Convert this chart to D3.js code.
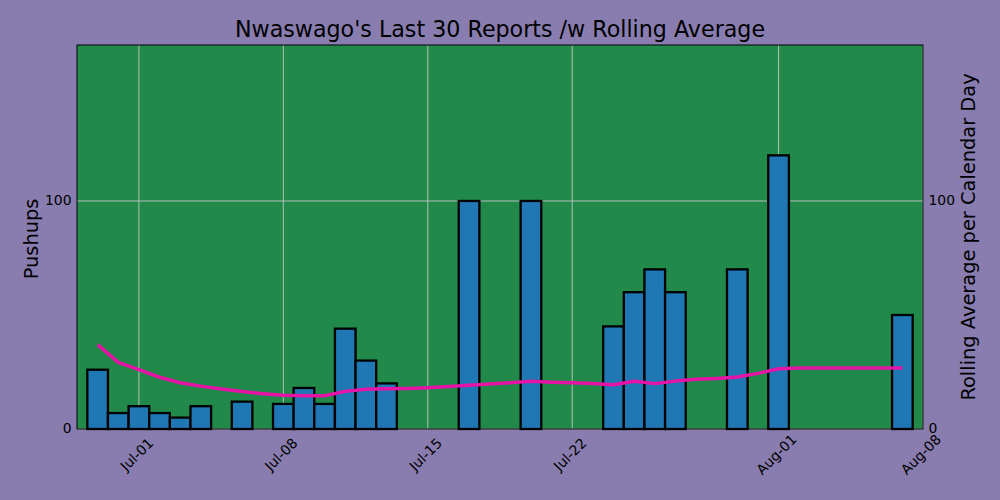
<!DOCTYPE html>
<html>
<head>
<meta charset="utf-8">
<script src="https://cdn.jsdelivr.net/npm/d3@7"></script>
<style>
  body { margin: 0; background: #897daf; }
  text { font-family: "DejaVu Sans", sans-serif; fill: #000; }
</style>
</head>
<body>
<div id="chart"></div>
<script>

// Reports (date, pushups)
const reportDates = ["2023-06-29", "2023-06-30", "2023-07-01", "2023-07-02", "2023-07-03", "2023-07-04",
    "2023-07-06", "2023-07-08", "2023-07-09", "2023-07-10", "2023-07-11", "2023-07-12", "2023-07-13",
    "2023-07-17", "2023-07-20", "2023-07-24", "2023-07-25", "2023-07-26", "2023-07-27",
    "2023-07-30", "2023-08-01", "2023-08-07"];
const pushups = [26, 7, 10, 7, 5, 10, 12, 11, 18, 11, 44, 30, 20, 100, 100, 45, 60, 70, 60, 70, 120, 50];

// Rolling average per calendar day
const avgDates = ["2023-06-29", "2023-06-30",
    "2023-07-01", "2023-07-02", "2023-07-03", "2023-07-04", "2023-07-05", "2023-07-06", "2023-07-07",
    "2023-07-08", "2023-07-09", "2023-07-10", "2023-07-11", "2023-07-12", "2023-07-13", "2023-07-14",
    "2023-07-15", "2023-07-16", "2023-07-17", "2023-07-18", "2023-07-19", "2023-07-20", "2023-07-21",
    "2023-07-22", "2023-07-23", "2023-07-24", "2023-07-25", "2023-07-26", "2023-07-27", "2023-07-28",
    "2023-07-29", "2023-07-30", "2023-07-31",
    "2023-08-01", "2023-08-02", "2023-08-03", "2023-08-04", "2023-08-05", "2023-08-06", "2023-08-07"];
const avgValues = [37, 29.2,
    26, 22.7, 20.3, 18.8, 17.5, 16.4, 15.5,
    14.8, 14.6, 14.6, 16.5, 17.4, 17.7, 17.8,
    18.1, 18.6, 19.2, 19.7, 20.3, 20.9, 20.5,
    20.3, 20.0, 19.4, 20.9, 19.9, 21.0, 21.8,
    22.2, 22.8, 24.4,
    26.4, 26.8, 26.8, 26.8, 26.8, 26.8, 26.8];

const xTicks = ["2023-07-01", "2023-07-08", "2023-07-15", "2023-07-22", "2023-08-01", "2023-08-08"];
const yTicks = [0, 100];

const parse = d3.timeParse("%Y-%m-%d");

let margin = { top: 45, left: 77, right: 77, bottom: 71 },
    width = 1000 - margin.left - margin.right,
    height = 500 - margin.top - margin.bottom;

let svg = d3.select("#chart")
    .append("svg")
    .attr("width", 1000)
    .attr("height", 500);

svg.append("rect")
    .attr("width", 1000)
    .attr("height", 500)
    .attr("fill", "#897daf");

let g = svg.append("g")
    .attr("transform", "translate(" + margin.left + "," + margin.top + ")");

let x = d3.scaleTime()
    .domain([parse("2023-06-28"), parse("2023-08-08")])
    .range([0, width]);

let y = d3.scaleLinear()
    .domain([0, 168.4])
    .range([height, 0]);

// same scale on the right
let y2 = y.copy();

// plot background
g.append("rect")
    .attr("width", width)
    .attr("height", height)
    .attr("fill", "#218a4a");

// grid
g.selectAll(".vgrid")
    .data(xTicks)
    .enter()
    .append("line")
    .attr("x1", d => x(parse(d)))
    .attr("x2", d => x(parse(d)))
    .attr("y1", 0)
    .attr("y2", height)
    .attr("stroke", "#c4c4c4")
    .attr("stroke-width", 0.9);

g.selectAll(".hgrid")
    .data(yTicks)
    .enter()
    .append("line")
    .attr("x1", 0)
    .attr("x2", width)
    .attr("y1", d => y(d))
    .attr("y2", d => y(d))
    .attr("stroke", "#c4c4c4")
    .attr("stroke-width", 0.9);

// bars
let bw = x(parse("2023-07-02")) - x(parse("2023-07-01"));
g.selectAll(".bar")
    .data(reportDates.map((d, i) => ({ date: parse(d), value: pushups[i] })))
    .enter()
    .append("rect")
    .attr("x", d => x(d.date) - bw / 2)
    .attr("width", bw)
    .attr("y", d => y(d.value))
    .attr("height", d => y(0) - y(d.value))
    .attr("fill", "#1f77b4")
    .attr("stroke", "#000")
    .attr("stroke-width", 2.3);

// rolling average line
let line = d3.line()
    .x(d => x(d.date))
    .y(d => y2(d.value));

g.append("path")
    .datum(avgDates.map((d, i) => ({ date: parse(d), value: avgValues[i] })))
    .attr("d", line)
    .attr("fill", "none")
    .attr("stroke", "#e514a6")
    .attr("stroke-width", 3.5)
    .attr("stroke-linejoin", "round");

// border
g.append("rect")
    .attr("width", width)
    .attr("height", height)
    .attr("fill", "none")
    .attr("stroke", "#000")
    .attr("stroke-width", 1);

// axes
let fmt = d3.timeFormat("%b-%d");

g.selectAll(".xlabel")
    .data(xTicks)
    .enter()
    .append("text")
    .attr("transform", d => "translate(" + (x(parse(d)) - 1.5) + "," + (height + 26) + ") rotate(-45)")
    .attr("text-anchor", "middle")
    .attr("dominant-baseline", "middle")
    .style("font-size", "13.9px")
    .text(d => fmt(parse(d)));

g.selectAll(".ylabel")
    .data(yTicks)
    .enter()
    .append("text")
    .attr("x", -5.5)
    .attr("y", d => y(d))
    .attr("text-anchor", "end")
    .attr("dominant-baseline", "middle")
    .style("font-size", "13.9px")
    .text(d => d);

g.selectAll(".y2label")
    .data(yTicks)
    .enter()
    .append("text")
    .attr("x", width + 5.5)
    .attr("y", d => y2(d))
    .attr("text-anchor", "start")
    .attr("dominant-baseline", "middle")
    .style("font-size", "13.9px")
    .text(d => d);

// titles
svg.append("text")
    .attr("x", 500)
    .attr("y", 37)
    .attr("text-anchor", "middle")
    .style("font-size", "22.2px")
    .text("Nwaswago's Last 30 Reports /w Rolling Average");

svg.append("text")
    .attr("transform", "translate(38,239) rotate(-90)")
    .attr("text-anchor", "middle")
    .style("font-size", "19.4px")
    .text("Pushups");

svg.append("text")
    .attr("transform", "translate(975,237) rotate(-90)")
    .attr("text-anchor", "middle")
    .style("font-size", "19.4px")
    .text("Rolling Average per Calendar Day");

</script>
</body>
</html>
